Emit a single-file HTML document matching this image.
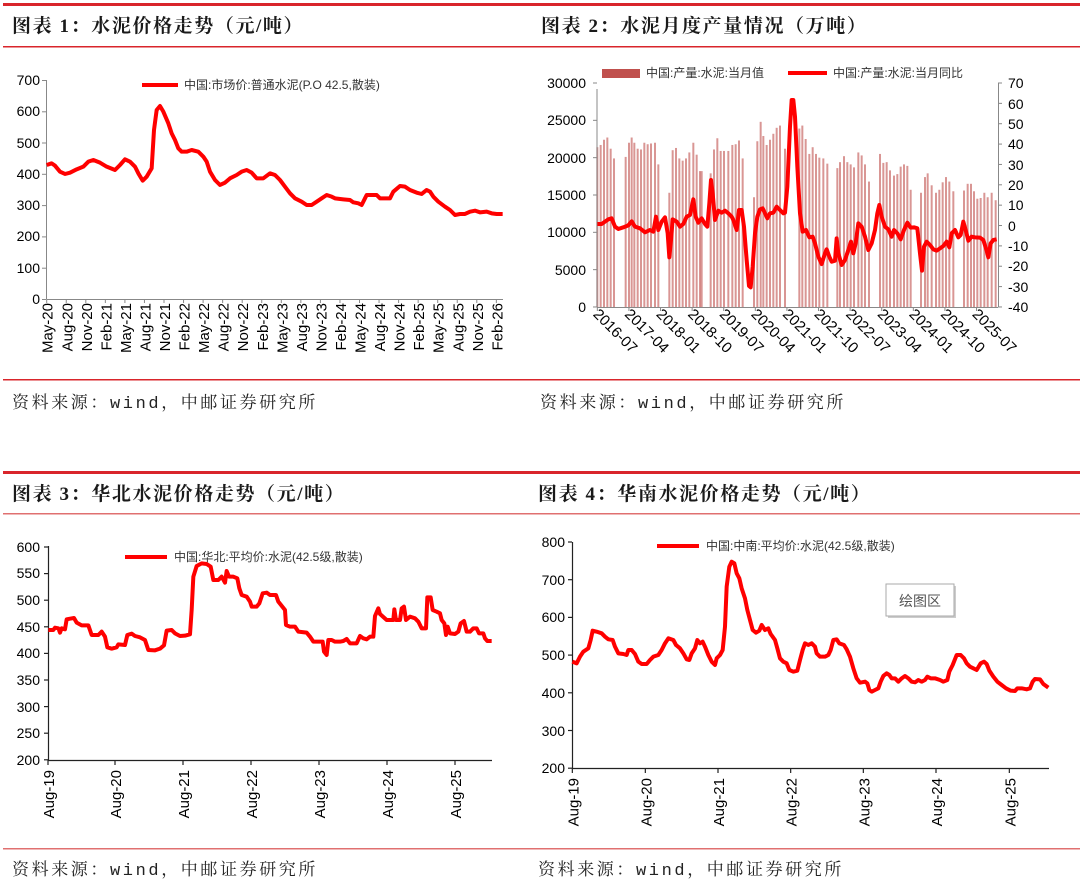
<!DOCTYPE html>
<html><head><meta charset="utf-8"><style>
html,body{margin:0;padding:0;background:#fff;}
svg{display:block;}
.t{font-family:"Liberation Sans",sans-serif;font-size:14px;fill:#000;}
.tx{font-family:"Liberation Sans",sans-serif;font-size:15px;fill:#000;}
.ttl{font-family:"Liberation Serif","Noto Serif CJK SC",serif;font-size:19px;font-weight:bold;fill:#1a1a1a;letter-spacing:1.6px;}
.src{font-family:"Liberation Mono","Noto Serif CJK SC",serif;font-size:17px;fill:#222;letter-spacing:2.6px;}
.lg{font-family:"Liberation Sans","Noto Sans CJK SC",sans-serif;font-size:12px;fill:#333;}
</style></head><body>
<svg width="1080" height="884" viewBox="0 0 1080 884" xmlns="http://www.w3.org/2000/svg">
<rect x="3" y="3" width="1077" height="3" fill="#d9252b"/>
<rect x="3" y="46" width="1077" height="1.5" fill="#d9252b"/>
<rect x="3" y="379" width="1077" height="1.5" fill="#d9252b"/>
<rect x="3" y="471" width="1077" height="3" fill="#d9252b"/>
<rect x="3" y="513" width="1077" height="1.5" fill="#e07070"/>
<rect x="3" y="848" width="1077" height="1.5" fill="#e07070"/>

<text class="ttl" x="12" y="32">图表 1：水泥价格走势（元/吨）</text>
<text class="ttl" x="541" y="32">图表 2：水泥月度产量情况（万吨）</text>
<text class="ttl" x="12" y="500">图表 3：华北水泥价格走势（元/吨）</text>
<text class="ttl" x="538" y="500">图表 4：华南水泥价格走势（元/吨）</text>
<text class="src" x="12" y="408">资料来源：wind，中邮证券研究所</text>
<text class="src" x="540" y="408">资料来源：wind，中邮证券研究所</text>
<text class="src" x="12" y="875">资料来源：wind，中邮证券研究所</text>
<text class="src" x="538" y="875">资料来源：wind，中邮证券研究所</text>

<!-- ===== Chart 1 ===== -->
<g stroke="#888" stroke-width="1">
<line x1="46.5" y1="80" x2="46.5" y2="299"/>
<line x1="46.5" y1="299.5" x2="503" y2="299.5"/>
<line x1="42" y1="80.5" x2="46" y2="80.5"/><line x1="42" y1="111.8" x2="46" y2="111.8"/><line x1="42" y1="143" x2="46" y2="143"/><line x1="42" y1="174.3" x2="46" y2="174.3"/><line x1="42" y1="205.6" x2="46" y2="205.6"/><line x1="42" y1="236.9" x2="46" y2="236.9"/><line x1="42" y1="268.2" x2="46" y2="268.2"/><line x1="42" y1="299.5" x2="46" y2="299.5"/>
</g>
<g class="t" text-anchor="end">
<text x="40" y="85">700</text><text x="40" y="116">600</text><text x="40" y="148">500</text><text x="40" y="179">400</text><text x="40" y="210">300</text><text x="40" y="241">200</text><text x="40" y="273">100</text><text x="40" y="304">0</text>
</g>
<g id="c1x" class="tx" text-anchor="end"></g>
<line x1="142" y1="85" x2="178" y2="85" stroke="#f00" stroke-width="4"/>
<text class="lg" x="184" y="89">中国:市场价:普通水泥(P.O 42.5,散装)</text>
<g transform="scale(0.33333)">
<polyline fill="none" stroke="#f00" stroke-width="12" stroke-linejoin="round" points="140,495 155,490 165,497 180,515 195,522 210,518 230,508 250,500 265,485 280,480 300,488 320,500 345,510 360,495 375,478 390,485 405,500 415,520 428,542 440,530 455,505 462,390 470,330 480,318 490,335 505,370 515,400 525,420 535,445 545,455 560,455 575,450 595,455 610,470 620,485 630,515 645,540 660,555 675,548 690,535 710,525 725,515 740,510 755,518 770,535 790,535 810,520 825,525 840,540 855,560 870,580 885,595 905,605 920,615 935,615 950,605 965,595 980,585 995,590 1005,595 1030,598 1050,600 1060,607 1075,610 1085,615 1095,595 1100,585 1130,585 1140,595 1170,595 1180,575 1200,558 1215,560 1230,570 1250,578 1265,582 1280,570 1290,575 1300,590 1315,605 1335,620 1350,630 1365,645 1380,642 1395,642 1410,635 1425,632 1440,637 1460,635 1475,640 1490,642 1508,642"/>
</g>

<!-- ===== Chart 2 ===== -->
<g id="bars"></g>
<g stroke="#888" stroke-width="1">
<line x1="597" y1="89" x2="597" y2="307"/>
<line x1="597" y1="307.5" x2="998" y2="307.5"/>
<line x1="998.5" y1="83" x2="998.5" y2="307"/>
</g>
<g id="c2t" stroke="#888" stroke-width="1"></g>
<g class="t" text-anchor="end">
<text x="586" y="88">30000</text><text x="586" y="125">25000</text><text x="586" y="163">20000</text><text x="586" y="200">15000</text><text x="586" y="237">10000</text><text x="586" y="275">5000</text><text x="586" y="312">0</text>
</g>
<g class="t">
<text x="1008" y="88">70</text><text x="1008" y="109">60</text><text x="1008" y="129">50</text><text x="1008" y="149">40</text><text x="1008" y="170">30</text><text x="1008" y="190">20</text><text x="1008" y="210">10</text><text x="1008" y="231">0</text><text x="1008" y="251">-10</text><text x="1008" y="271">-20</text><text x="1008" y="292">-30</text><text x="1008" y="312">-40</text>
</g>
<g id="c2x" class="tx"></g>
<rect x="602" y="69" width="38" height="9" fill="#c0504d"/>
<text class="lg" x="646" y="77">中国:产量:水泥:当月值</text>
<line x1="788" y1="73" x2="827" y2="73" stroke="#f00" stroke-width="4"/>
<text class="lg" x="833" y="77">中国:产量:水泥:当月同比</text>
<g transform="translate(540,0) scale(0.33333)">
<polyline fill="none" stroke="#f00" stroke-width="12" stroke-linejoin="round" points="172,672 185,672 195,665 205,658 215,655 225,680 235,687 250,682 265,676 275,664 285,680 300,685 315,697 330,690 340,695 348,650 355,690 365,665 375,652 383,700 388,772 393,720 398,658 410,665 420,680 430,672 440,650 450,645 460,598 467,650 475,668 485,655 495,672 502,680 508,610 513,540 518,580 525,660 535,632 545,638 555,632 565,640 575,650 580,660 590,690 597,630 605,630 612,680 620,780 627,858 632,862 638,800 645,700 652,650 660,628 668,625 675,640 682,655 690,640 700,638 710,620 720,630 730,640 735,638 742,560 750,380 755,300 760,300 765,350 772,500 780,640 788,695 798,690 808,712 818,710 825,730 835,770 845,792 855,760 860,748 868,770 875,785 885,782 890,715 895,760 905,795 915,780 925,750 933,725 940,760 947,730 955,670 965,680 975,710 985,750 995,730 1005,690 1012,640 1018,615 1025,650 1035,680 1045,688 1055,710 1062,690 1072,700 1082,718 1092,690 1102,668 1112,683 1122,682 1132,685 1140,760 1146,812 1152,740 1160,725 1170,735 1180,748 1190,752 1200,745 1210,738 1220,725 1228,742 1235,700 1245,690 1255,712 1262,705 1270,665 1277,690 1285,722 1295,710 1305,712 1320,713 1330,720 1340,752 1345,772 1352,730 1360,720 1370,718"/>
</g>

<!-- ===== Chart 3 ===== -->
<g stroke="#222" stroke-width="1.2">
<line x1="48.5" y1="546" x2="48.5" y2="760"/>
<line x1="48" y1="760.5" x2="492" y2="760.5"/>
</g>
<g id="c3t" stroke="#222" stroke-width="1.2"></g>
<g class="t" text-anchor="end">
<text x="40" y="552">600</text><text x="40" y="578">550</text><text x="40" y="605">500</text><text x="40" y="632">450</text><text x="40" y="658">400</text><text x="40" y="685">350</text><text x="40" y="712">300</text><text x="40" y="738">250</text><text x="40" y="765">200</text>
</g>
<g id="c3x" class="tx" text-anchor="end"></g>
<line x1="125" y1="557" x2="167" y2="557" stroke="#f00" stroke-width="4"/>
<text class="lg" x="174" y="561">中国:华北:平均价:水泥(42.5级,散装)</text>
<g transform="translate(0,460) scale(0.33333)">
<polyline fill="none" stroke="#f00" stroke-width="12" stroke-linejoin="round" points="145,510 160,510 165,503 175,505 180,518 185,505 195,508 200,478 210,476 222,474 230,488 245,496 265,496 275,525 295,525 305,515 315,530 322,562 335,566 350,562 355,553 375,555 382,525 395,521 405,528 420,532 435,540 445,570 465,571 480,566 492,556 500,512 515,510 525,520 540,528 555,527 570,523 575,450 580,350 590,318 605,310 620,312 632,320 640,360 655,360 665,350 675,368 680,333 687,350 700,350 712,355 718,385 725,405 740,410 750,425 755,440 770,440 778,430 788,400 800,398 810,405 828,405 835,425 855,450 858,495 870,500 885,500 895,515 920,518 930,530 940,545 968,545 972,575 980,585 985,540 995,540 1005,545 1020,545 1030,543 1040,537 1050,550 1070,550 1080,528 1090,535 1100,538 1110,530 1120,530 1125,468 1135,445 1140,462 1160,480 1180,480 1183,448 1188,480 1200,480 1205,445 1212,440 1218,480 1230,470 1245,475 1255,485 1265,505 1278,505 1282,412 1292,412 1298,450 1310,455 1320,460 1325,480 1333,490 1338,525 1343,500 1350,520 1365,522 1375,515 1382,490 1392,483 1400,515 1410,515 1420,505 1430,505 1437,520 1450,520 1455,535 1462,543 1475,543"/>
</g>

<!-- ===== Chart 4 ===== -->
<g stroke="#222" stroke-width="1.2">
<line x1="572.5" y1="542" x2="572.5" y2="768"/>
<line x1="572" y1="768.5" x2="1049" y2="768.5"/>
</g>
<g id="c4t" stroke="#222" stroke-width="1.2"></g>
<g class="t" text-anchor="end">
<text x="565" y="547">800</text><text x="565" y="585">700</text><text x="565" y="622">600</text><text x="565" y="660">500</text><text x="565" y="698">400</text><text x="565" y="736">300</text><text x="565" y="773">200</text>
</g>
<g id="c4x" class="tx" text-anchor="end"></g>
<line x1="657" y1="546" x2="699" y2="546" stroke="#f00" stroke-width="4"/>
<text class="lg" x="706" y="550">中国:中南:平均价:水泥(42.5级,散装)</text>
<rect x="888" y="586" width="68" height="32" fill="#ccc"/>
<rect x="886" y="584" width="68" height="32" fill="#fff" stroke="#aaa" stroke-width="1"/>
<text x="920" y="606" text-anchor="middle" style="font-family:'Liberation Sans','Noto Sans CJK SC',sans-serif;font-size:14px;fill:#555">绘图区</text>
<g transform="translate(540,460) scale(0.33333)">
<polyline fill="none" stroke="#f00" stroke-width="12" stroke-linejoin="round" points="97,605 110,610 120,590 130,575 145,565 152,540 158,512 170,515 185,520 195,530 205,538 218,540 225,560 235,580 250,582 260,585 265,570 275,570 285,582 295,605 305,612 320,612 330,600 340,590 355,585 365,570 375,550 385,535 400,540 408,555 420,565 430,580 440,598 448,600 455,580 465,565 472,540 480,550 488,545 495,560 505,585 515,605 525,615 530,595 540,585 548,570 555,500 560,380 568,320 575,305 583,310 590,340 598,355 605,385 615,415 622,450 630,480 638,510 648,518 658,512 665,495 675,510 685,505 692,522 705,540 712,565 720,595 730,605 740,610 748,630 760,635 772,632 780,600 788,570 795,550 805,555 815,550 825,560 830,580 840,590 855,590 865,585 872,570 880,540 890,538 898,550 912,555 920,568 930,590 940,625 950,655 960,668 975,665 982,670 988,690 995,695 1005,690 1015,685 1022,665 1030,648 1040,640 1048,645 1055,655 1065,655 1075,665 1085,655 1095,648 1105,655 1115,665 1125,667 1135,660 1145,665 1155,660 1162,650 1172,655 1185,655 1200,660 1210,665 1222,660 1228,635 1238,615 1250,585 1262,585 1272,595 1280,610 1290,620 1300,625 1310,630 1322,610 1332,605 1340,612 1348,632 1360,650 1372,665 1385,675 1398,685 1412,692 1425,693 1432,685 1445,685 1460,688 1470,685 1478,665 1485,657 1500,658 1510,672 1525,683"/>
</g>
</svg>
<script>
(function(){
var NS="http://www.w3.org/2000/svg";
function el(p,tag,attrs,txt){var e=document.createElementNS(NS,tag);for(var k in attrs)e.setAttribute(k,attrs[k]);if(txt)e.textContent=txt;document.getElementById(p).appendChild(e);return e;}
var m=["May","Aug","Nov","Feb"];
for(var i=0;i<24;i++){var x=46.7+i*19.55;var yr=20+Math.floor((i+1)/4);var lab=m[i%4]+"-"+yr;
el("c1x","line",{x1:x,y1:299,x2:x,y2:303,stroke:"#888"});
el("c1x","text",{x:0,y:0,transform:"translate("+(x+6)+",303) rotate(-90)"},lab);}
var b=[[172,21400],[182,21700],[192,22400],[202,22700],[212,21200],[222,19900],[257,20100],[267,22000],[275,22700],[283,22000],[293,21200],[303,21100],[313,22000],[323,21800],[333,21900],[345,22000],[355,19100],[388,15300],[398,21000],[408,21300],[418,19900],[428,19600],[438,19900],[448,20700],[460,22000],[470,20400],[480,18200],[485,18200],[512,17900],[522,21100],[532,22600],[542,20900],[552,20900],[565,20900],[577,21700],[587,21800],[597,22300],[608,19900],[642,14700],[652,22200],[662,24800],[670,22900],[680,21700],[690,22400],[700,23200],[710,24000],[720,24300],[735,21200],[778,23900],[787,24300],[797,22500],[808,20500],[818,21400],[828,20500],[838,20000],[850,19900],[862,19200],[892,18600],[900,19400],[912,20200],[922,19400],[932,19100],[942,18700],[955,20700],[965,20300],[975,19100],[987,16800],[1020,20500],[1030,19300],[1040,19400],[1050,18300],[1062,17600],[1072,17800],[1082,18800],[1092,19100],[1102,18900],[1112,15700],[1143,15300],[1155,17400],[1163,17900],[1175,16300],[1188,15300],[1198,15700],[1208,16700],[1218,17400],[1228,16800],[1240,15500],[1272,15600],[1283,16500],[1293,16500],[1302,15500],[1312,14500],[1322,14600],[1333,15300],[1343,14700],[1355,15300],[1367,14300]];
b.forEach(function(d){var x=540+d[0]/3;var h=d[1]/30000*224;el("bars","rect",{x:x-1,y:307-h,width:2,height:h,fill:"#c0504d","fill-opacity":"0.6"});});
var lab2=["2016-07","2017-04","2018-01","2018-10","2019-07","2020-04","2021-01","2021-10","2022-07","2023-04","2024-01","2024-10","2025-07"];
for(var j=0;j<13;j++){var x2=540+(172+j*94.8)/3;el("c2t","line",{x1:x2,y1:307,x2:x2,y2:311});
el("c2x","text",{x:0,y:0,transform:"translate("+(x2-5)+",315) rotate(45)"},lab2[j]);}
for(var k=0;k<=6;k++){var y=83+k*37.33;el("c2t","line",{x1:593,y1:y,x2:597,y2:y});}
for(var k2=0;k2<=11;k2++){var yy=83+k2*20.36;el("c2t","line",{x1:998,y1:yy,x2:1002,y2:yy});}
var t3=[48,115,183,251,319,387,455];
t3.forEach(function(x,i){el("c3t","line",{x1:x,y1:760,x2:x,y2:765});el("c3x","text",{x:0,y:0,transform:"translate("+(x+6)+",770) rotate(-90)"},"Aug-"+(19+i));});
for(var q=0;q<=8;q++){var y3=547+q*26.6;el("c3t","line",{x1:44,y1:y3,x2:48,y2:y3});}
var t4=[97,316,534,752,970,1188,1408];
t4.forEach(function(z,i){var x=540+z/3;el("c4t","line",{x1:x,y1:768,x2:x,y2:773});el("c4x","text",{x:0,y:0,transform:"translate("+(x+6)+",778) rotate(-90)"},"Aug-"+(19+i));});
for(var r=0;r<=6;r++){var y4=542+r*37.7;el("c4t","line",{x1:568,y1:y4,x2:572,y2:y4});}
})();
</script>
</body></html>
